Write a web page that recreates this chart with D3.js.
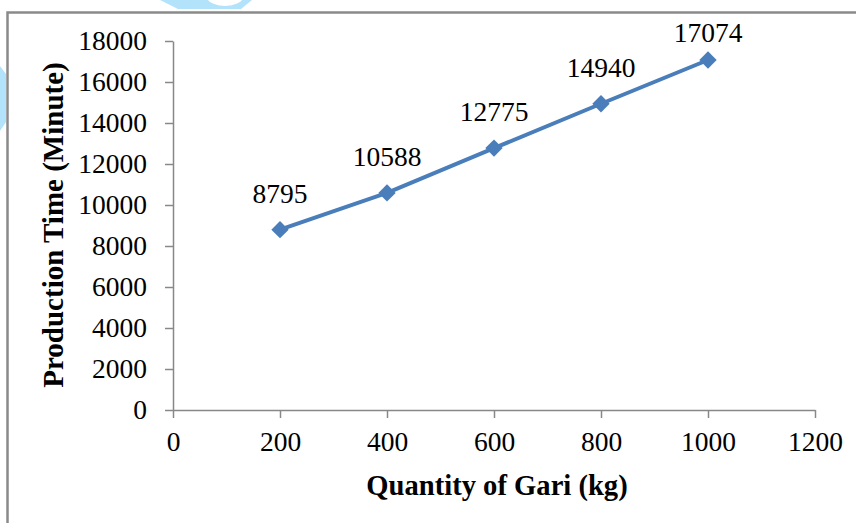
<!DOCTYPE html>
<html>
<head>
<meta charset="utf-8">
<script src="https://cdn.jsdelivr.net/npm/d3@7"></script>
<style>
  html, body { margin: 0; padding: 0; background: #fff; }
  svg { display: block; }
  text { font-family: "Liberation Serif", "Times New Roman", serif; fill: #000; }
</style>
</head>
<body>
<svg id="chart" width="856" height="523"></svg>
<script>
// Gari quantity (kg) and production time (minutes)
const quantities = [200, 400, 600, 800, 1000];
const productionTimes = [8795, 10588, 12775, 14940, 17074];
const xTicks = [0, 200, 400, 600, 800, 1000, 1200];
const yTicks = [0, 2000, 4000, 6000, 8000, 10000, 12000, 14000, 16000, 18000];

const svg = d3.select("#chart");
const W = 856, H = 523;
const plot = { left: 173, right: 815, top: 41, bottom: 410 };

// decorative light-blue shapes in the corner
svg.append("path")
  .attr("d", "M160,0 L178,9 L241,9 L252,0 Z")
  .attr("fill", "#b3e3fb");
svg.append("ellipse")
  .attr("cx", 225).attr("cy", -3).attr("rx", 18).attr("ry", 9)
  .attr("fill", "#fff");
svg.append("path")
  .attr("d", "M0,66 L6,74 L6,122 L0,131 Z")
  .attr("fill", "#b3e3fb");

// outer frame
svg.append("path")
  .attr("d", `M7.5,${H} L7.5,12.5 L${W},12.5`)
  .attr("fill", "none")
  .attr("stroke", "#8a8a8a")
  .attr("stroke-width", 2.5);

const x = d3.scaleLinear().domain([0, 1200]).range([plot.left, plot.right]);
const y = d3.scaleLinear().domain([0, 18000]).range([plot.bottom, plot.top]);

const axisColor = "#888";
const tickFont = 27.5;

// y axis
const yAxis = svg.append("g")
  .attr("transform", `translate(${plot.left},0)`)
  .call(d3.axisLeft(y).tickValues(yTicks).tickSizeOuter(0).tickSizeInner(8).tickPadding(18).tickFormat(d3.format("d")));
// x axis
const xAxis = svg.append("g")
  .attr("transform", `translate(0,${plot.bottom})`)
  .call(d3.axisBottom(x).tickValues(xTicks).tickSizeOuter(0).tickSizeInner(8).tickPadding(13).tickFormat(d3.format("d")));

[yAxis, xAxis].forEach(g => {
  g.attr("font-family", null).attr("font-size", null);
  g.select(".domain").attr("stroke", axisColor).attr("stroke-width", 1.5);
  g.selectAll(".tick line").attr("stroke", axisColor).attr("stroke-width", 1.5);
  g.selectAll(".tick text")
    .attr("font-size", tickFont)
    .attr("fill", "#000");
});

// series line
const line = d3.line()
  .x((d, i) => x(quantities[i]))
  .y(d => y(d));
svg.append("path")
  .datum(productionTimes)
  .attr("d", line)
  .attr("fill", "none")
  .attr("stroke", "#4a7ebb")
  .attr("stroke-width", 4)
  .attr("stroke-linejoin", "round");

// diamond markers
const diamond = d3.symbol().type(d3.symbolSquare).size(150);
svg.append("g").selectAll("path")
  .data(productionTimes)
  .join("path")
  .attr("d", diamond)
  .attr("transform", (d, i) => `translate(${x(quantities[i])},${y(d)}) rotate(45)`)
  .attr("fill", "#4a7ebb");

// value labels above each point
svg.append("g").selectAll("text")
  .data(productionTimes)
  .join("text")
  .attr("x", (d, i) => x(quantities[i]))
  .attr("y", d => Math.max(y(d) - 27, 42))
  .attr("text-anchor", "middle")
  .attr("font-size", tickFont)
  .text(d => d);

// axis titles
svg.append("text")
  .attr("x", 497)
  .attr("y", 495)
  .attr("text-anchor", "middle")
  .attr("font-weight", "bold")
  .attr("font-size", 28.6)
  .text("Quantity of Gari (kg)");

svg.append("text")
  .attr("transform", `translate(63,225) rotate(-90)`)
  .attr("text-anchor", "middle")
  .attr("font-weight", "bold")
  .attr("font-size", 29)
  .text("Production Time (Minute)");
</script>
</body>
</html>
